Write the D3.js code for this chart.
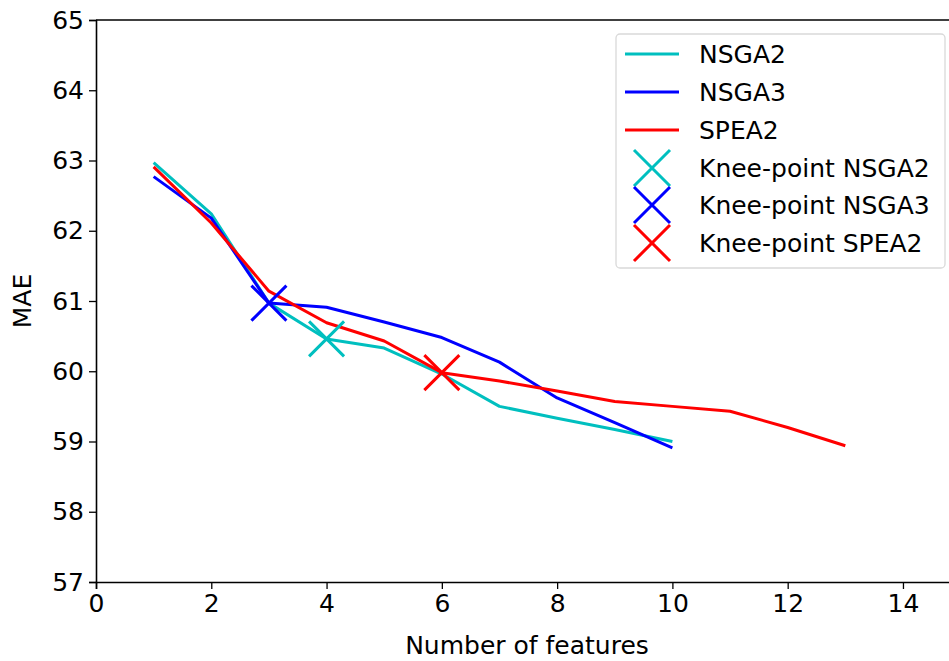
<!DOCTYPE html>
<html>
<head>
<meta charset="utf-8">
<script src="https://cdn.jsdelivr.net/npm/d3@7"></script>
<style>
  body { margin: 0; background: #fff; }
  text { font-family: "DejaVu Sans", sans-serif; }
</style>
</head>
<body>
<div id="chart"></div>
<script>
// feature counts and MAE per algorithm
var xNsga2 = [1, 2, 3, 4, 5, 6, 7, 8, 9, 10];
var yNsga2 = [62.97, 62.24, 60.97, 60.46, 60.33, 59.96, 59.5, 59.33, 59.17, 59.0];
var xNsga3 = [1, 2, 3, 4, 5, 6, 7, 8, 9, 10];
var yNsga3 = [62.77, 62.18, 60.97, 60.91, 60.7, 60.48, 60.13, 59.62, 59.27, 58.91];
var xSpea2 = [1, 2, 3, 4, 5, 6, 7, 8, 9, 10, 11, 12, 13];
var ySpea2 = [62.91, 62.11, 61.14, 60.69, 60.43, 59.98, 59.86, 59.72, 59.57, 59.5, 59.43, 59.2, 58.94];

var kneeNames = ["Knee-point NSGA2", "Knee-point NSGA3", "Knee-point SPEA2"];
var kneeX = [4, 3, 6];
var kneeY = [60.46, 60.97, 59.98];

var seriesNames = ["NSGA2", "NSGA3", "SPEA2"];
var colors = ["#00bfbf", "#0000ff", "#ff0000"];

var xTicks = [0, 2, 4, 6, 8, 10, 12, 14];
var yTicks = [57, 58, 59, 60, 61, 62, 63, 64, 65];

var W = 949, H = 661;
var mLeft = 96, mTop = 20, mBottom = 582;
var fs = 25;
var lw = 3;

var svg = d3.select("#chart").append("svg")
  .attr("width", W)
  .attr("height", H);

var x = d3.scaleLinear().domain([0, 15]).range([mLeft, mLeft + 15 * 57.64]);
var y = d3.scaleLinear().domain([57, 65]).range([mBottom, mTop]);

// axes
svg.append("g")
  .attr("transform", "translate(0," + mBottom + ")")
  .call(d3.axisBottom(x).tickValues(xTicks).tickSize(7).tickPadding(5).tickFormat(d3.format("d")))
  .call(function (g) {
    g.select(".domain").attr("stroke-width", 1.6);
    g.selectAll(".tick line").attr("stroke-width", 1.3);
    g.selectAll("text").attr("font-size", fs).attr("fill", "#000");
  });

svg.append("g")
  .attr("transform", "translate(" + mLeft + ",0)")
  .call(d3.axisLeft(y).tickValues(yTicks).tickSize(7).tickPadding(5).tickFormat(d3.format("d")))
  .call(function (g) {
    g.select(".domain").attr("stroke-width", 1.6);
    g.selectAll(".tick line").attr("stroke-width", 1.3);
    g.selectAll("text").attr("font-size", fs).attr("fill", "#000");
  });

// top spine
svg.append("line")
  .attr("x1", mLeft).attr("x2", W)
  .attr("y1", mTop).attr("y2", mTop)
  .attr("stroke", "#000").attr("stroke-width", 1.6);

// axis titles
svg.append("text")
  .attr("x", 527)
  .attr("y", 654)
  .attr("text-anchor", "middle")
  .attr("font-size", fs)
  .text("Number of features");

svg.append("text")
  .attr("transform", "translate(31," + ((mTop + mBottom) / 2) + ") rotate(-90)")
  .attr("text-anchor", "middle")
  .attr("font-size", fs)
  .text("MAE");

// lines
var series = [
  { xs: xNsga2, ys: yNsga2 },
  { xs: xNsga3, ys: yNsga3 },
  { xs: xSpea2, ys: ySpea2 }
];

var line = d3.line()
  .x(function (d) { return x(d[0]); })
  .y(function (d) { return y(d[1]); });

series.forEach(function (s, i) {
  var pts = s.xs.map(function (v, j) { return [v, s.ys[j]]; });
  svg.append("path")
    .datum(pts)
    .attr("d", line)
    .attr("fill", "none")
    .attr("stroke", colors[i])
    .attr("stroke-width", lw)
    .attr("stroke-linejoin", "round");
});

function drawX(g, cx, cy, r, color) {
  g.append("path")
    .attr("d", "M" + (cx - r) + "," + (cy - r) + "L" + (cx + r) + "," + (cy + r) +
      "M" + (cx - r) + "," + (cy + r) + "L" + (cx + r) + "," + (cy - r))
    .attr("stroke", color)
    .attr("stroke-width", lw)
    .attr("fill", "none");
}

// knee points
kneeX.forEach(function (v, i) {
  drawX(svg, x(v), y(kneeY[i]), 17.5, colors[i]);
});

// legend
var lg = svg.append("g");
lg.append("rect")
  .attr("x", 616).attr("y", 34)
  .attr("width", 329).attr("height", 234)
  .attr("rx", 4)
  .attr("fill", "#fff")
  .attr("fill-opacity", 0.8)
  .attr("stroke", "#d9d9d9")
  .attr("stroke-width", 1.3);

var rowY = [54, 92, 130, 168, 205, 243];
seriesNames.forEach(function (n, i) {
  lg.append("line")
    .attr("x1", 625).attr("x2", 679)
    .attr("y1", rowY[i]).attr("y2", rowY[i])
    .attr("stroke", colors[i]).attr("stroke-width", lw);
  lg.append("text")
    .attr("x", 699).attr("y", rowY[i])
    .attr("dy", "0.35em")
    .attr("font-size", fs)
    .text(n);
});
kneeNames.forEach(function (n, i) {
  var ry = rowY[i + 3];
  drawX(lg, 652, ry, 18, colors[i]);
  lg.append("text")
    .attr("x", 699).attr("y", ry)
    .attr("dy", "0.35em")
    .attr("font-size", fs)
    .text(n);
});
</script>
</body>
</html>
